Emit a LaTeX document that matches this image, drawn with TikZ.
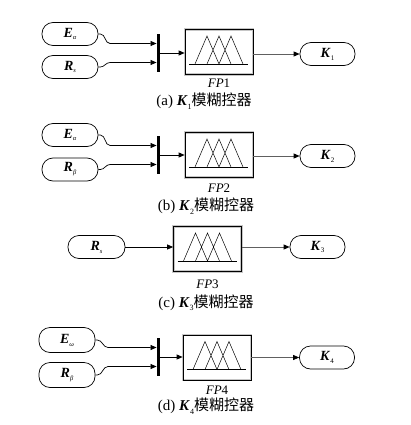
\documentclass[tikz,border=0pt]{standalone}
\usepackage{fontspec}
\setmainfont{Liberation Serif}
\newfontfamily\cjk{Noto Sans CJK SC}
\usetikzlibrary{arrows.meta}
\newcommand{\bvar}[2]{\textbf{\textit{#1}}\raisebox{-0.45ex}{\fontsize{6.5}{6.5}\selectfont\textit{#2}}}
\newcommand{\bnum}[2]{\textbf{\textit{#1}}\raisebox{-0.45ex}{\fontsize{7}{7}\selectfont #2}}
\newcommand{\capk}[1]{\textbf{\textit{K}}\raisebox{-0.5ex}{\fontsize{8}{8}\selectfont #1}}
\begin{document}
\begin{tikzpicture}[x=1pt,y=-1pt,
  sig/.style={draw, rounded corners=11pt, minimum width=56pt, minimum height=23pt, inner sep=0pt, line width=0.7pt, font=\fontsize{14}{14}\selectfont},
  fpbox/.style={draw, line width=0.7pt, minimum width=68pt, minimum height=45pt, inner sep=0pt, preaction={draw=gray!45, line width=2.2pt}},
  muxbar/.style={fill=black, minimum width=3.5pt, minimum height=38pt, inner sep=0pt},
  wire/.style={line width=0.7pt, -{Triangle[length=6pt,width=5pt]}},
  outwire/.style={line width=0.7pt, draw=gray!75!black, -{Triangle[length=6pt,width=5pt,color=black]}},
  lbl/.style={font=\fontsize{13}{13}\selectfont},
  captext/.style={font=\fontsize{15}{15}\selectfont},
  fuzzy/.pic={
    \draw[line width=0.5pt] (-30,12) -- (29,12);
    \draw[line width=0.5pt] (-24,12) -- (-12,-16) -- (0,12) (-12,12) -- (0,-16) -- (12,12) (0,12) -- (12,-16) -- (24,12);
  }]
\useasboundingbox (0,0) rectangle (410,425);

% ---------- (a) ----------
\node[sig] (ea) at (70,34) {\bvar{E}{α}};
\node[sig] (ra) at (70,67) {\bvar{R}{s}};
\node[muxbar] (mxa) at (158.5,53) {};
\node[fpbox] (fpa) at (219,52) {};
\pic at (fpa) {fuzzy};
\node[sig, minimum width=55pt] (ka) at (327.5,54) {\bnum{K}{1}};
\node[lbl] (la) at (219,83) {\textit{FP}1};
\node[captext] (ca) at (204,101) {(a) \capk{1}{\cjk 模糊控器}};
\coordinate (ia1) at (110,43.5);
\coordinate (ia2) at (110,62.5);
\draw[wire] (ea.east) -- ++(2,0) to[out=0,in=180] (ia1) -- (ia1 -| mxa.west);
\draw[wire] (ra.east) -- ++(2,0) to[out=0,in=180] (ia2) -- (ia2 -| mxa.west);
\draw[wire] (mxa.east) -- (mxa.east -| fpa.west);
\draw[outwire] (fpa.east |- ka.west) -- (ka.west);

% ---------- (b) ----------
\node[sig] (eb) at (70,135) {\bvar{E}{α}};
\node[sig] (rb) at (70,169.5) {\bvar{R}{β}};
\node[muxbar] (mxb) at (158.5,155) {};
\node[fpbox] (fpb) at (219,155) {};
\pic at (fpb) {fuzzy};
\node[sig, minimum width=55pt] (kb) at (327.5,156) {\bnum{K}{2}};
\node[lbl] (lb) at (219,188) {\textit{FP}2};
\node[captext] (cb) at (206,206) {(b) \capk{2}{\cjk 模糊控器}};
\coordinate (ib1) at (110,145.5);
\coordinate (ib2) at (110,164.5);
\draw[wire] (eb.east) -- ++(2,0) to[out=0,in=180] (ib1) -- (ib1 -| mxb.west);
\draw[wire] (rb.east) -- ++(2,0) to[out=0,in=180] (ib2) -- (ib2 -| mxb.west);
\draw[wire] (mxb.east) -- (mxb.east -| fpb.west);
\draw[outwire] (fpb.east |- kb.west) -- (kb.west);

% ---------- (c) ----------
\node[sig, minimum width=57pt] (rc) at (96.5,247) {\bvar{R}{s}};
\node[fpbox] (fpc) at (207.5,249) {};
\pic at (fpc) {fuzzy};
\node[sig, minimum width=55pt] (kc) at (317.5,247) {\bnum{K}{3}};
\node[lbl] (lc) at (207.5,284) {\textit{FP}3};
\node[captext] (cc) at (206,303) {(c) \capk{3}{\cjk 模糊控器}};
\draw[wire] (rc.east) -- (rc.east -| fpc.west);
\draw[outwire] (fpc.east |- kc.west) -- (kc.west);

% ---------- (d) ----------
\node[sig, minimum height=25pt] (ed) at (67,340) {\bvar{E}{ω}};
\node[sig, minimum height=25pt] (rd) at (67,375) {\bvar{R}{β}};
\node[muxbar] (mxd) at (158.5,357) {};
\node[fpbox] (fpd) at (217,357.5) {};
\pic at (fpd) {fuzzy};
\node[sig, minimum width=55pt] (kd) at (327,357.5) {\bnum{K}{4}};
\node[lbl] (ld) at (217,390) {\textit{FP}4};
\node[captext] (cd) at (206,406) {(d) \capk{4}{\cjk 模糊控器}};
\coordinate (id1) at (108,347.5);
\coordinate (id2) at (108,366.5);
\draw[wire] (ed.east) -- ++(2,0) to[out=0,in=180] (id1) -- (id1 -| mxd.west);
\draw[wire] (rd.east) -- ++(2,0) to[out=0,in=180] (id2) -- (id2 -| mxd.west);
\draw[wire] (mxd.east) -- (mxd.east -| fpd.west);
\draw[outwire] (fpd.east |- kd.west) -- (kd.west);
\end{tikzpicture}
\end{document}
